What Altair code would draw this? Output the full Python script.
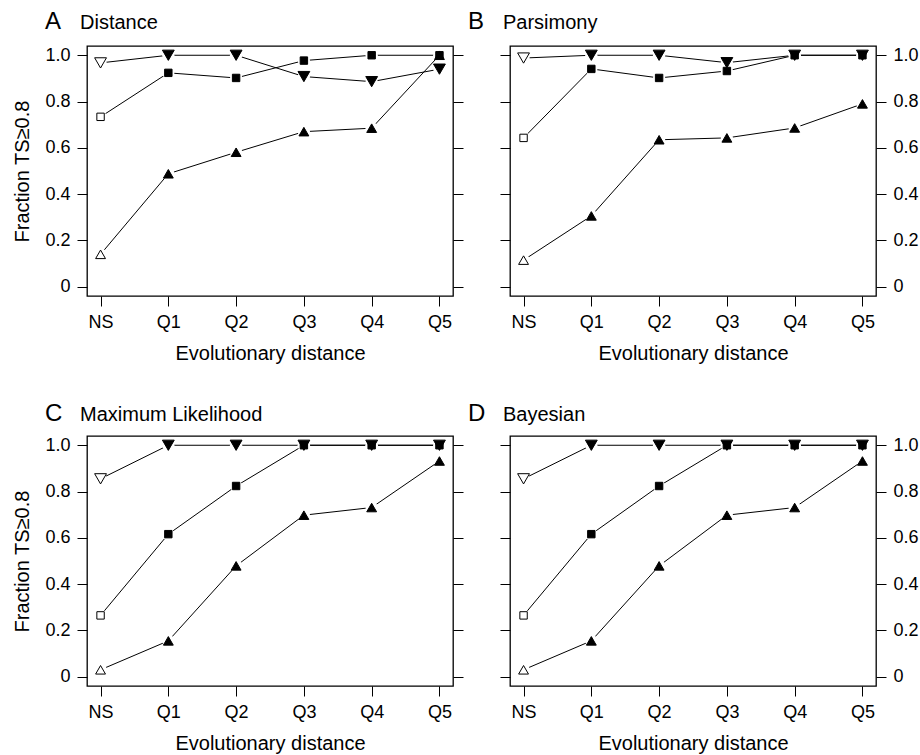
import altair as alt
import pandas as pd

categories = ["NS", "Q1", "Q2", "Q3", "Q4", "Q5"]
letters = ["A", "B", "C", "D"]
methods = ["Distance", "Parsimony", "Maximum Likelihood", "Bayesian"]
series_names = ["square", "up", "down"]
y_ticks = [0, 0.2, 0.4, 0.6, 0.8, 1.0]

dist_square = [0.734, 0.924, 0.902, 0.977, 1.0, 1.0]
dist_up = [0.14, 0.488, 0.581, 0.670, 0.685, 1.0]
dist_down = [0.967, 1.0, 1.0, 0.908, 0.886, 0.94]

pars_square = [0.643, 0.941, 0.902, 0.932, 1.0, 1.0]
pars_up = [0.115, 0.306, 0.635, 0.643, 0.686, 0.79]
pars_down = [0.988, 1.0, 1.0, 0.968, 1.0, 1.0]

ml_square = [0.265, 0.616, 0.824, 1.0, 1.0, 1.0]
ml_up = [0.03, 0.155, 0.479, 0.698, 0.731, 0.932]
ml_down = [0.855, 1.0, 1.0, 1.0, 1.0, 1.0]

bayes_square = [0.265, 0.616, 0.824, 1.0, 1.0, 1.0]
bayes_up = [0.03, 0.155, 0.479, 0.698, 0.731, 0.932]
bayes_down = [0.855, 1.0, 1.0, 1.0, 1.0, 1.0]

panel_values = [
    (dist_square, dist_up, dist_down),
    (pars_square, pars_up, pars_down),
    (ml_square, ml_up, ml_down),
    (bayes_square, bayes_up, bayes_down),
]

FONT = "Liberation Sans"
W, H = 366, 250

label_expr = "datum.value == 0 ? '0' : format(datum.value, '.1f')"


def make_panel(idx):
    rows = []
    for s_name, vals in zip(series_names, panel_values[idx]):
        for c, v in zip(categories, vals):
            rows.append({"series": s_name, "q": c, "v": v})
    df = pd.DataFrame(rows)
    left_labels = idx in (0, 2)
    title_y = -17.5 if idx < 2 else -15.5

    x = alt.X(
        "q:N",
        sort=categories,
        scale=alt.Scale(type="point", padding=0.2),
        axis=alt.Axis(
            title="Evolutionary distance",
            labelAngle=0,
            labelPadding=7,
            titlePadding=12,
        ),
    )
    yscale = alt.Scale(domain=[-0.04, 1.04], nice=False, zero=False)
    left_kw = dict(orient="left", values=y_ticks, labelExpr=label_expr,
                   labels=left_labels, labelPadding=7, titlePadding=12)
    if left_labels:
        left_kw["title"] = "Fraction TS\u22650.8"
    else:
        left_kw["title"] = ""
    right_kw = dict(orient="right", values=y_ticks, labelExpr=label_expr,
                    labels=not left_labels, labelPadding=7, title="")

    base = alt.Chart(df)
    lines = base.mark_line(color="black", strokeWidth=1).encode(
        x=x,
        y=alt.Y("v:Q", scale=yscale, axis=alt.Axis(**left_kw)),
        detail="series:N",
    )
    halo = base.mark_point(shape="circle", filled=True, color="white",
                           opacity=1, size=150).encode(
        x=x, y=alt.Y("v:Q", scale=yscale, axis=alt.Axis(**right_kw)),
    )
    pts = base.mark_point(filled=True, opacity=1, stroke="black",
                          strokeWidth=1).encode(
        x=x,
        y=alt.Y("v:Q", scale=yscale, axis=None),
        shape=alt.Shape("series:N",
                        scale=alt.Scale(domain=series_names,
                                        range=["square", "triangle-up", "triangle-down"]),
                        legend=None),
        size=alt.Size("series:N",
                      scale=alt.Scale(domain=series_names, range=[55, 140, 140]),
                      legend=None),
        fill=alt.condition(alt.datum.q == "NS", alt.value("white"), alt.value("black")),
    )
    lab_df = pd.DataFrame({"letter": [letters[idx]], "name": [methods[idx]]})
    lab = alt.Chart(lab_df)
    t_letter = lab.mark_text(align="left", baseline="alphabetic", font=FONT,
                             fontSize=24, color="black").encode(
        x=alt.value(-42), y=alt.value(title_y), text="letter:N")
    t_name = lab.mark_text(align="left", baseline="alphabetic", font=FONT,
                           fontSize=20, color="black").encode(
        x=alt.value(-7), y=alt.value(title_y), text="name:N")

    return alt.layer(lines, halo, pts, t_letter, t_name).resolve_axis(
        y="independent").properties(width=W, height=H)


chart = alt.concat(
    make_panel(0), make_panel(1), make_panel(2), make_panel(3),
    columns=2, spacing={"row": 140, "column": 57},
    bounds="flush",
).properties(
    padding={"left": 12, "top": 8, "right": 0, "bottom": 0},
    background="white",
).configure_view(
    stroke="black", strokeWidth=1.3
).configure_axis(
    domain=False, grid=False, tickColor="black", tickSize=10, tickWidth=1,
    labelFont=FONT, labelFontSize=18, labelColor="black",
    titleFont=FONT, titleFontSize=20, titleFontWeight="normal", titleColor="black",
)

chart.save("out.html", embed_options={"renderer": "svg", "actions": False})
